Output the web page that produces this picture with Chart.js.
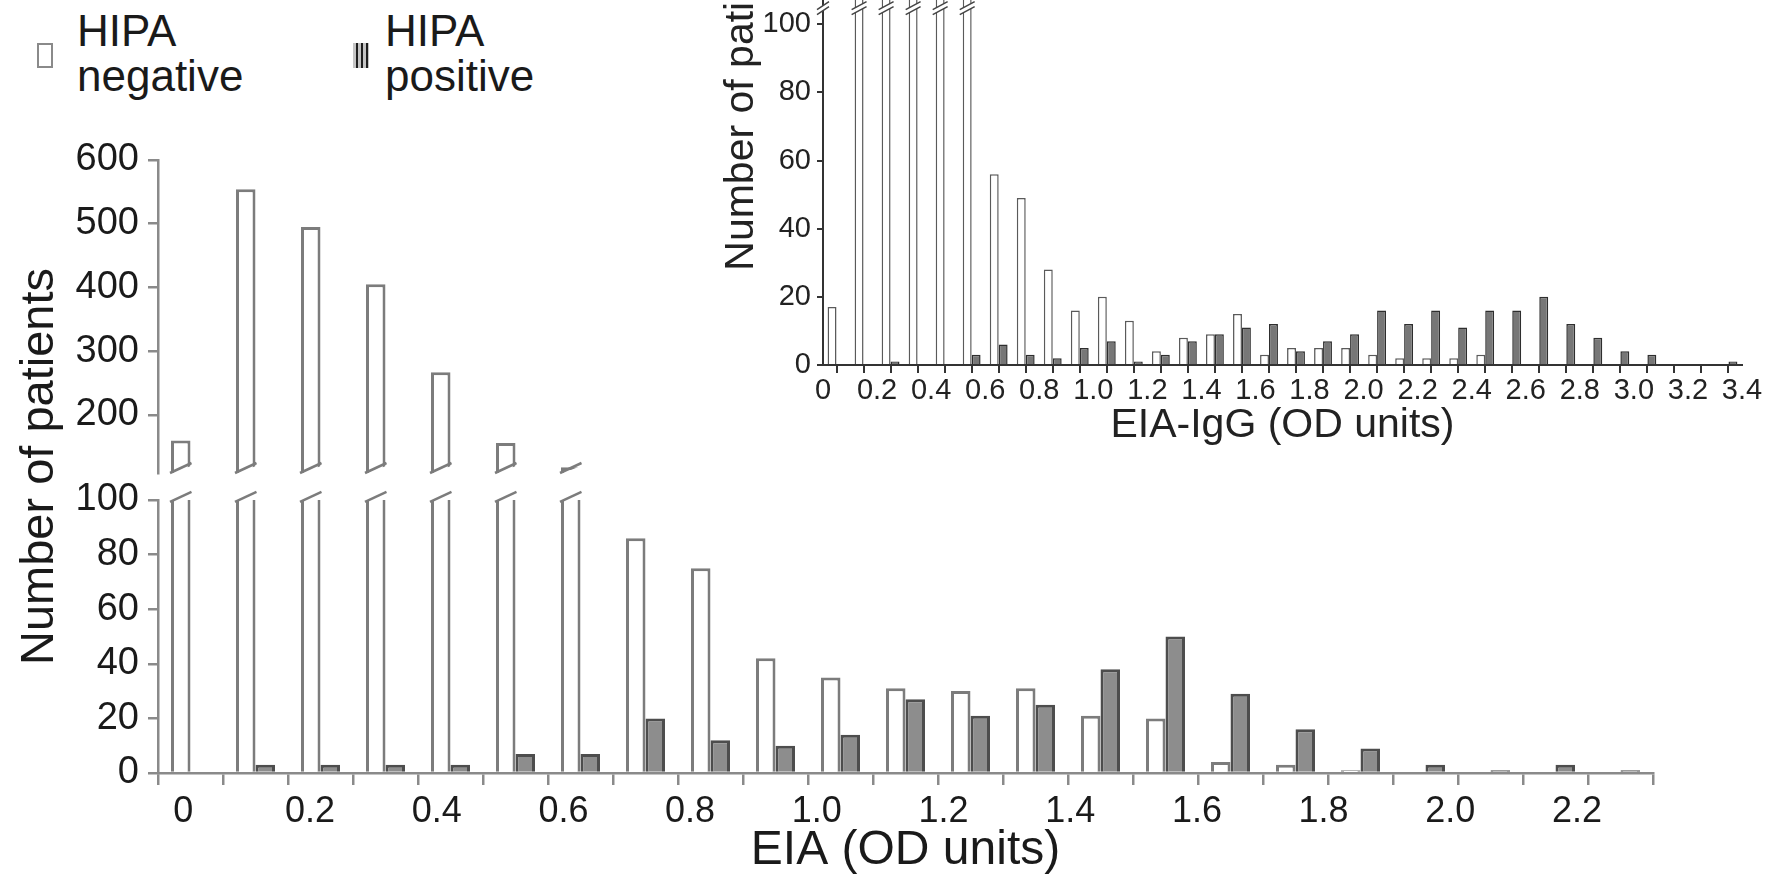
<!DOCTYPE html>
<html>
<head>
<meta charset="utf-8">
<title>EIA results by HIPA status</title>
<script src="https://cdn.jsdelivr.net/npm/chart.js@4.4.0/dist/chart.umd.min.js"></script>
<style>
  html, body { margin: 0; padding: 0; background: #fff; }
  body { width: 1775px; height: 881px; position: relative; overflow: hidden; font-family: 'Liberation Sans', Arial, sans-serif; }
  #mainChart { position: absolute; left: 0; top: 0; }
  #insetChart { position: absolute; left: 700px; top: -200px; }
  .legend-box { position: absolute; box-sizing: border-box; }
  .legend-text { position: absolute; font-size: 44px; line-height: 45px; color: #1a1a1a; }
</style>
</head>
<body>
<div class="legend-box" style="left:37px;top:43px;width:16px;height:25px;border:2px solid #8a8a8a;background:#fff"></div>
<div class="legend-text" style="left:77px;top:8px">HIPA<br>negative</div>
<div class="legend-box" style="left:353px;top:43px;width:16px;height:25px;background:repeating-linear-gradient(90deg,#c4c4c4 0 3px,#1e1e1e 3px 5px)"></div>
<div class="legend-text" style="left:385px;top:8px">HIPA<br>positive</div>
<canvas id="mainChart" width="1775" height="881"></canvas>
<canvas id="insetChart" width="1075" height="655"></canvas>
<script>
// main histogram, EIA (OD units), 0.1 wide bins
const mainBins = ['0', '0.1', '0.2', '0.3', '0.4', '0.5', '0.6', '0.7', '0.8', '0.9', '1.0', '1.1',
  '1.2', '1.3', '1.4', '1.5', '1.6', '1.7', '1.8', '1.9', '2.0', '2.1', '2.2'];
const mainNegative = [160, 554, 495, 405, 267, 156, 118, 86, 75, 42, 35, 31, 30, 31, 21, 20, 4, 3, 1, 0, 0, 0, 0];
const mainPositive = [0, 3, 3, 3, 3, 7, 7, 20, 12, 10, 14, 27, 21, 25, 38, 50, 29, 16, 9, 3, 1, 3, 1];
const mainTickValues = [0, 0.2, 0.4, 0.6, 0.8, 1.0, 1.2, 1.4, 1.6, 1.8, 2.0, 2.2];
const mainTickLabels = ['0', '0.2', '0.4', '0.6', '0.8', '1.0', '1.2', '1.4', '1.6', '1.8', '2.0', '2.2'];
const mainLowerTicks = [0, 20, 40, 60, 80, 100];
const mainUpperTicks = [200, 300, 400, 500, 600];

// inset histogram, EIA-IgG (OD units); bins 0.1-0.5 are cut off above 100
const insetBins = ['0', '0.1', '0.2', '0.3', '0.4', '0.5', '0.6', '0.7', '0.8', '0.9', '1.0', '1.1',
  '1.2', '1.3', '1.4', '1.5', '1.6', '1.7', '1.8', '1.9', '2.0', '2.1', '2.2', '2.3', '2.4', '2.5',
  '2.6', '2.7', '2.8', '2.9', '3.0', '3.1', '3.2', '3.3'];
const insetNegative = [17, 300, 280, 250, 200, 150, 56, 49, 28, 16, 20, 13, 4, 8, 9, 15, 3, 5, 5, 5, 3, 2, 2, 2, 3,
  0, 0, 0, 0, 0, 0, 0, 0, 0];
const insetPositive = [0, 0, 1, 0, 0, 3, 6, 3, 2, 5, 7, 1, 3, 7, 9, 11, 12, 4, 7, 9, 16, 12, 16, 11, 16, 16, 20,
  12, 8, 4, 3, 0, 0, 1];
const insetYTicks = [0, 20, 40, 60, 80, 100];
const insetTickLabels = ['0', '0.2', '0.4', '0.6', '0.8', '1.0', '1.2', '1.4', '1.6', '1.8', '2.0', '2.2',
  '2.4', '2.6', '2.8', '3.0', '3.2', '3.4'];

document.addEventListener('DOMContentLoaded', () => {
  Chart.defaults.font.family = "'Liberation Sans', Arial, sans-serif";

  const lowCap = 103;   // lower bars stop here (break)
  const highMin = 109;  // upper segment of the broken axis starts here
  const insetCap = 104;
  const axisGrey = '#8a8a8a';
  const textColor = '#1a1a1a';
  const fixedTicks = (values) => (scale) => { scale.ticks = values.map(v => ({ value: v })); };

  // slanted cuts where the main bars cross the axis break
  const mainBreaks = {
    id: 'mainBreaks',
    afterDatasetsDraw(chart) {
      const ctx = chart.ctx;
      const lowBars = chart.getDatasetMeta(0).data;
      const highBars = chart.getDatasetMeta(1).data;
      const s = 10;
      ctx.save();
      mainNegative.forEach((v, i) => {
        if (v <= lowCap) return;
        const lo = lowBars[i].getProps(['x', 'y', 'width'], true);
        let L = lo.x - lo.width / 2, R = lo.x + lo.width / 2;
        ctx.fillStyle = '#fff';
        ctx.beginPath();
        ctx.moveTo(L - 3, lo.y - 4);
        ctx.lineTo(R + 3, lo.y - 4);
        ctx.lineTo(R + 3, lo.y - 2);
        ctx.lineTo(L - 3, lo.y + s - 2);
        ctx.closePath();
        ctx.fill();
        ctx.strokeStyle = '#7c7c7c';
        ctx.lineWidth = 2.5;
        ctx.beginPath();
        ctx.moveTo(L - 1, lo.y + s);
        ctx.lineTo(R + 1, lo.y);
        ctx.stroke();

        const hi = highBars[i].getProps(['x', 'base', 'width'], true);
        L = hi.x - hi.width / 2;
        R = hi.x + hi.width / 2;
        ctx.fillStyle = '#fff';
        ctx.beginPath();
        ctx.moveTo(L - 3, hi.base + 2);
        ctx.lineTo(R + 3, hi.base - s + 2);
        ctx.lineTo(R + 3, hi.base + 4);
        ctx.lineTo(L - 3, hi.base + 4);
        ctx.closePath();
        ctx.fill();
        ctx.beginPath();
        ctx.moveTo(L - 1, hi.base);
        ctx.lineTo(R + 1, hi.base - s);
        ctx.stroke();
      });
      ctx.restore();
    }
  };

  // double slashes on the inset bars and axis above 100
  const insetBreaks = {
    id: 'insetBreaks',
    afterDatasetsDraw(chart) {
      const {ctx, chartArea} = chart;
      const yb = chart.scales.y.getPixelForValue(insetCap);
      const bars = chart.getDatasetMeta(0).data;
      const mark = (L, R) => {
        ctx.fillStyle = '#fff';
        ctx.beginPath();
        ctx.moveTo(L, yb + 4);
        ctx.lineTo(R, yb - 4);
        ctx.lineTo(R, yb - 9);
        ctx.lineTo(L, yb - 1);
        ctx.closePath();
        ctx.fill();
        ctx.strokeStyle = '#444';
        ctx.lineWidth = 1.5;
        ctx.beginPath();
        ctx.moveTo(L, yb + 4);
        ctx.lineTo(R, yb - 4);
        ctx.moveTo(L, yb - 1);
        ctx.lineTo(R, yb - 9);
        ctx.stroke();
      };
      ctx.save();
      insetNegative.forEach((v, i) => {
        if (v <= insetCap) return;
        const b = bars[i].getProps(['x', 'width'], true);
        mark(b.x - b.width / 2 - 3, b.x + b.width / 2 + 3);
      });
      mark(chartArea.left - 6, chartArea.left + 6);
      ctx.restore();
    }
  };

  const leftAxis = (extra) => Object.assign({
    type: 'linear',
    position: 'left',
    stack: 'main',
    bounds: 'data',
    stacked: false,
    ticks: { autoSkip: false, color: textColor, font: { size: 38 }, padding: 9 },
    grid: { drawOnChartArea: false, tickLength: 10, color: axisGrey, lineWidth: 2.5 },
    border: { color: axisGrey, width: 2.5 },
    afterFit: (scale) => { scale.width = 88; }
  }, extra);

  new Chart(document.getElementById('mainChart'), {
    type: 'bar',
    data: {
      labels: mainBins,
      datasets: [
        {
          label: 'HIPA negative',
          data: mainNegative.map(v => Math.min(v, lowCap)),
          yAxisID: 'yLow',
          stack: 'neg',
          backgroundColor: '#fff',
          borderColor: '#7c7c7c',
          borderWidth: 3
        },
        {
          label: 'HIPA negative (above break)',
          data: mainNegative.map(v => v > lowCap ? v : null),
          yAxisID: 'yHigh',
          stack: 'neg',
          base: highMin,
          backgroundColor: '#fff',
          borderColor: '#7c7c7c',
          borderWidth: 3
        },
        {
          label: 'HIPA positive',
          data: mainPositive,
          yAxisID: 'yLow',
          stack: 'pos',
          backgroundColor: '#8d8d8d',
          borderColor: '#4d4d4d',
          borderWidth: 3
        }
      ]
    },
    options: {
      responsive: false,
      animation: false,
      events: [],
      datasets: { bar: { categoryPercentage: 0.6, barPercentage: 1 } },
      layout: { padding: { top: 160, right: 122, left: 0, bottom: 0 } },
      plugins: { legend: { display: false }, tooltip: { enabled: false } },
      scales: {
        // bins: tick marks at the bin edges
        x: {
          type: 'category',
          offset: true,
          grid: { offset: true, drawOnChartArea: false, tickLength: 12, color: axisGrey, lineWidth: 2.5 },
          border: { color: axisGrey, width: 2.5 },
          ticks: { display: false },
          afterFit: (scale) => { scale.height = 12; }
        },
        // printed OD labels, which sit on their own scale in the figure
        xLabels: {
          type: 'linear',
          position: 'bottom',
          offset: false,
          min: -0.04,
          max: 2.32,
          bounds: 'data',
          afterBuildTicks: fixedTicks(mainTickValues),
          grid: { display: false, drawTicks: false },
          border: { display: false },
          ticks: {
            autoSkip: false,
            maxRotation: 0,
            padding: 5,
            color: textColor,
            font: { size: 36 },
            callback: (value, index) => mainTickLabels[index]
          },
          title: { display: true, text: 'EIA (OD units)', color: textColor, font: { size: 48 }, padding: { top: 0, bottom: 1 } },
          afterFit: (scale) => { scale.height = 96; }
        },
        yLow: leftAxis({ stackWeight: 273, min: 0, max: 100, afterBuildTicks: fixedTicks(mainLowerTicks) }),
        yGap: leftAxis({
          stackWeight: 27,
          min: 0,
          max: 1,
          ticks: { display: false },
          grid: { display: false, drawTicks: false },
          border: { display: false }
        }),
        yHigh: leftAxis({ stackWeight: 313, min: highMin, max: 600, afterBuildTicks: fixedTicks(mainUpperTicks) }),
        // full-height axis that only carries the title
        yTitle: {
          type: 'linear',
          position: 'left',
          min: 0,
          max: 1,
          ticks: { display: false },
          grid: { display: false, drawTicks: false },
          border: { display: false },
          title: { display: true, text: 'Number of patients', color: textColor, font: { size: 47 }, padding: { top: 12, bottom: 0 } },
          afterFit: (scale) => { scale.width = 70; }
        }
      }
    },
    plugins: [mainBreaks]
  });

  new Chart(document.getElementById('insetChart'), {
    type: 'bar',
    data: {
      labels: insetBins,
      datasets: [
        {
          label: 'HIPA negative',
          data: insetNegative,
          xAxisID: 'xBins',
          backgroundColor: '#fff',
          borderColor: '#5a5a5a',
          borderWidth: 1.5
        },
        {
          label: 'HIPA positive',
          data: insetPositive,
          xAxisID: 'xBins',
          backgroundColor: '#777',
          borderColor: '#2e2e2e',
          borderWidth: 1.5
        }
      ]
    },
    options: {
      responsive: false,
      animation: false,
      events: [],
      datasets: { bar: { categoryPercentage: 0.66, barPercentage: 1 } },
      layout: { padding: { top: 30, right: 33, left: 0, bottom: 0 } },
      plugins: { legend: { display: false }, tooltip: { enabled: false } },
      scales: {
        xBins: { type: 'category', display: false, offset: true },
        x: {
          type: 'linear',
          position: 'bottom',
          offset: false,
          min: 0,
          max: 3.4,
          bounds: 'data',
          ticks: {
            stepSize: 0.1,
            autoSkip: false,
            maxRotation: 0,
            padding: 1,
            color: '#222',
            font: { size: 29 },
            callback: (value, index) => index % 2 ? '' : insetTickLabels[index / 2]
          },
          grid: { drawOnChartArea: false, tickLength: 8, color: '#333', lineWidth: 2 },
          border: { color: '#333', width: 2 },
          title: { display: true, text: 'EIA-IgG (OD units)', color: '#222', font: { size: 41 }, padding: { top: 0, bottom: 5 } },
          afterFit: (scale) => { scale.height = 90; }
        },
        y: {
          min: 0,
          max: 157,
          bounds: 'data',
          afterBuildTicks: fixedTicks(insetYTicks),
          ticks: { autoSkip: false, padding: 6, color: '#222', font: { size: 29 } },
          grid: { drawOnChartArea: false, tickLength: 6, color: '#333', lineWidth: 2 },
          border: { color: '#333', width: 2 },
          title: { display: true, text: 'Number of patients', color: '#222', font: { size: 41 }, padding: { top: 17, bottom: 0 } },
          afterFit: (scale) => { scale.width = 123; }
        }
      }
    },
    plugins: [insetBreaks]
  });
});
</script>
</body>
</html>
